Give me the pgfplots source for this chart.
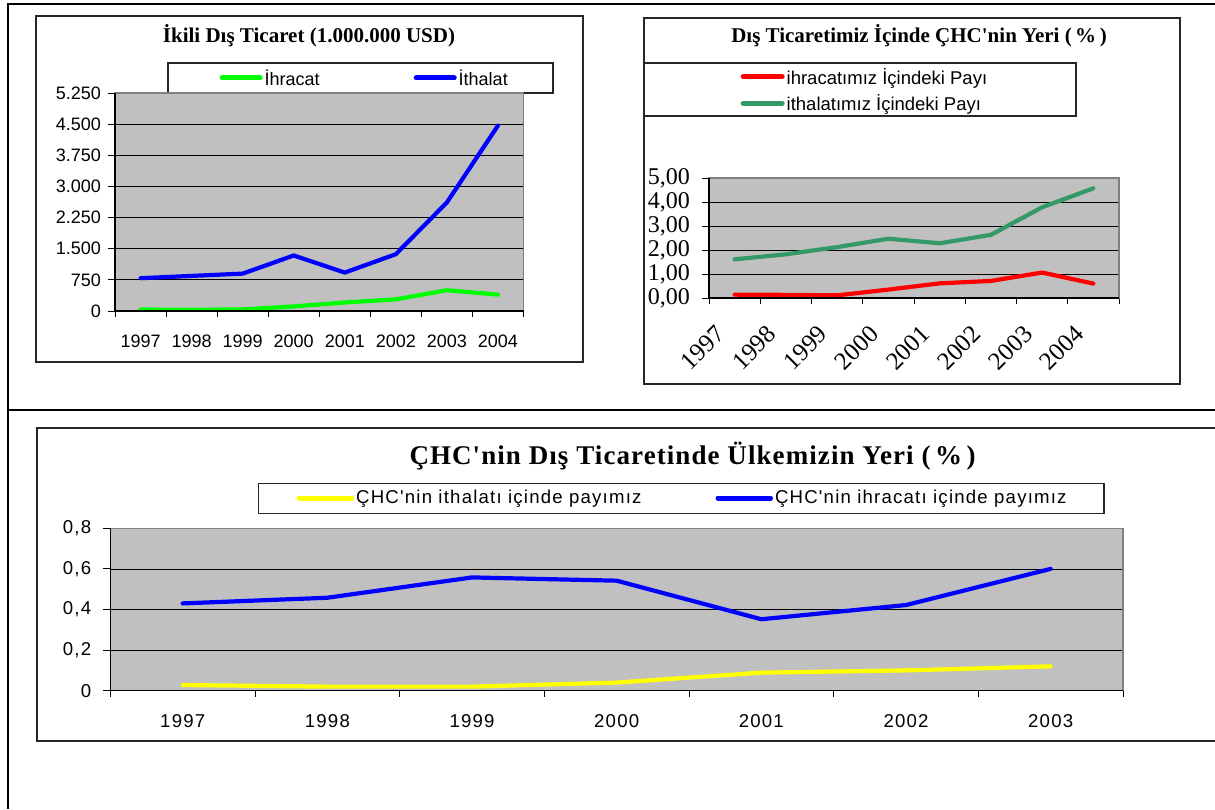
\documentclass[border=0pt]{standalone}
\usepackage{fontspec}
\setmainfont{Liberation Sans}[Ligatures=TeXOff]
\newfontfamily\tnr{Liberation Serif}[Ligatures=TeXOff]
\newfontfamily\sps{Liberation Sans}[Ligatures=TeXOff,LetterSpace=6.5]
\newfontfamily\tnrsp{Liberation Serif}[Ligatures=TeXOff,LetterSpace=4]
\usepackage{pgfplots}
\pgfplotsset{compat=1.18}
\definecolor{plotbg}{HTML}{C0C0C0}
\definecolor{exgreen}{HTML}{00FF00}
\definecolor{exblue}{HTML}{0000FF}
\definecolor{exred}{HTML}{FF0000}
\definecolor{exyellow}{HTML}{FFFF00}
\definecolor{seagreen}{HTML}{339966}
\definecolor{borderg}{HTML}{808080}
\pgfplotsset{
  excel/.style={
    scale only axis,
    axis background/.style={fill=plotbg},
    axis line style={draw=borderg, line width=1.5pt},
    ymin=0,
    ymajorgrids, major grid style={black, line width=0.8pt},
    tick align=outside, tick pos=left,
    major tick length=7pt, minor tick length=6pt,
    tick style={black, line width=0.9pt},
    every major x tick/.append style={draw=none},
    clip=false,
    legend cell align=left,
    after end axis/.code={\draw[black, line width=1.2pt] (rel axis cs:0,1) -- (rel axis cs:0,0) -- (rel axis cs:1,0);},
  },
  ln/.style={line width=4.2pt, line cap=round, line join=round, mark=none},
}
\begin{document}
\begin{tikzpicture}
\path[use as bounding box] (0pt,0pt) rectangle (1215pt,809pt);
% table frame
\draw[line width=2pt] (1215pt,805pt) -- (8pt,805pt) -- (8pt,0pt);
\draw[line width=2pt] (8pt,399pt) -- (1215pt,399pt);
% chart boxes
\draw[line width=1.2pt, black!85] (36pt,793pt) rectangle (583pt,447pt);
\draw[line width=1.2pt, black!85] (168pt,746pt) rectangle (553pt,716pt);
\draw[line width=1.2pt, black!85] (644pt,791pt) rectangle (1180pt,425pt);
\draw[line width=1.2pt, black!85] (644pt,746pt) rectangle (1076pt,693pt);
\draw[line width=1.2pt, black!85] (1216pt,381pt) -- (37pt,381pt) -- (37pt,68pt) -- (1216pt,68pt);
\draw[line width=1.2pt, black!85] (258.5pt,325.7pt) rectangle (1104pt,295.7pt);
% titles
\node[anchor=base, inner sep=0pt, font=\tnr\bfseries\fontsize{21}{21}\selectfont] at (309pt,766pt) {İkili Dış Ticaret (1.000.000 USD)};
\node[anchor=base, inner sep=0pt, font=\tnr\bfseries\fontsize{21}{21}\selectfont] at (919pt,766pt) {Dış Ticaretimiz İçinde ÇHC'nin Yeri (\,\%\,)};
\node[anchor=base, inner sep=0pt, font=\tnrsp\bfseries\fontsize{27}{27}\selectfont] at (692.5pt,344pt) {ÇHC'nin Dış Ticaretinde Ülkemizin Yeri (\,\%\,)};

% ---------- chart 1
\begin{axis}[excel,
  at={(115pt,498pt)}, anchor=south west, width=408.5pt, height=218pt,
  xmin=0.5, xmax=8.5, ymax=5250,
  xtick={1,2,3,4,5,6,7,8},
  xticklabels={1997,1998,1999,2000,2001,2002,2003,2004},
  minor xtick={0.5,1.5,2.5,3.5,4.5,5.5,6.5,7.5,8.5},
  ytick={0,750,1500,2250,3000,3750,4500,5250},
  yticklabels={0,750,1.500,2.250,3.000,3.750,4.500,5.250},
  ticklabel style={font=\fontsize{18}{18}\selectfont, inner sep=0pt},
  yticklabel style={anchor=east, xshift=-7pt},
  xticklabel style={anchor=base, yshift=-30pt},
  legend columns=2,
  legend style={draw=none, fill=none, at={(0.2558,1.0688)}, anchor=west, inner sep=0pt,
    font=\fontsize{18}{18}\selectfont, nodes={inner sep=2pt},
    /tikz/every even column/.append style={column sep=92pt}},
  legend image code/.code={\draw[#1, line width=5pt, line cap=round] (0pt,0pt) -- (38pt,0pt);},
]
\addplot[ln, exgreen] coordinates {(1,35) (2,30) (3,38) (4,110) (5,205) (6,280) (7,500) (8,395)};
\addlegendentry{İhracat}
\addplot[ln, exblue] coordinates {(1,790) (2,845) (3,900) (4,1337) (5,925) (6,1368) (7,2615) (8,4465)};
\addlegendentry{İthalat}
\end{axis}

% ---------- chart 2
\begin{axis}[excel,
  at={(709pt,511pt)}, anchor=south west, width=410pt, height=120pt,
  xmin=0.5, xmax=8.5, ymax=5,
  xtick={1,2,3,4,5,6,7,8},
  xticklabels={1997,1998,1999,2000,2001,2002,2003,2004},
  minor xtick={0.5,1.5,2.5,3.5,4.5,5.5,6.5,7.5,8.5},
  ytick={0,1,2,3,4,5},
  yticklabels={{0,00},{1,00},{2,00},{3,00},{4,00},{5,00}},
  ticklabel style={font=\tnr\fontsize{24}{24}\selectfont, inner sep=0pt},
  yticklabel style={anchor=east, xshift=-12pt},
  xticklabel style={font=\tnr\fontsize{25}{25}\selectfont, xshift=-20pt, yshift=-19pt, rotate=45, anchor=north east},
  legend style={draw=none, fill=none, at={(0.0768,1.7333)}, anchor=west, inner sep=0pt,
    font=\fontsize{18.5}{18.5}\selectfont, nodes={inner sep=2pt}, row sep=5pt},
  legend image code/.code={\draw[#1, line width=5pt, line cap=round] (0pt,0pt) -- (39pt,0pt);},
]
\addplot[ln, exred] coordinates {(1,0.14) (2,0.13) (3,0.11) (4,0.35) (5,0.61) (6,0.71) (7,1.06) (8,0.60)};
\addlegendentry{ihracatımız İçindeki Payı}
\addplot[ln, seagreen] coordinates {(1,1.61) (2,1.82) (3,2.12) (4,2.47) (5,2.28) (6,2.63) (7,3.78) (8,4.57)};
\addlegendentry{ithalatımız İçindeki Payı}
\end{axis}

% ---------- chart 3
\begin{axis}[excel,
  at={(110.4pt,118.3pt)}, anchor=south west, width=1012.6pt, height=162.4pt,
  xmin=0.5, xmax=7.5, ymax=0.8,
  xtick={1,2,3,4,5,6,7},
  xticklabels={1997,1998,1999,2000,2001,2002,2003},
  minor xtick={0.5,1.5,2.5,3.5,4.5,5.5,6.5,7.5},
  ytick={0,0.2,0.4,0.6,0.8},
  yticklabels={0,{0,2},{0,4},{0,6},{0,8}},
  ticklabel style={font=\sps\fontsize{18.6}{18.6}\selectfont, inner sep=0pt},
  yticklabel style={anchor=east, xshift=-12pt},
  xticklabel style={anchor=base, yshift=-30pt},
  legend columns=2,
  legend style={draw=none, fill=none, at={(0.1838,1.1866)}, anchor=west, inner sep=0pt,
    font=\sps\fontsize{18.6}{18.6}\selectfont, nodes={inner sep=2pt},
    /tikz/every even column/.append style={column sep=72pt}},
  legend image code/.code={\draw[#1, line width=5pt, line cap=round] (0pt,0pt) -- (52.5pt,0pt);},
]
\addplot[ln, exyellow] coordinates {(1,0.028) (2,0.02) (3,0.02) (4,0.04) (5,0.089) (6,0.10) (7,0.12)};
\addlegendentry{ÇHC'nin ithalatı içinde payımız}
\addplot[ln, exblue] coordinates {(1,0.43) (2,0.458) (3,0.558) (4,0.542) (5,0.352) (6,0.422) (7,0.60)};
\addlegendentry{ÇHC'nin ihracatı içinde payımız}
\end{axis}
\end{tikzpicture}
\end{document}
